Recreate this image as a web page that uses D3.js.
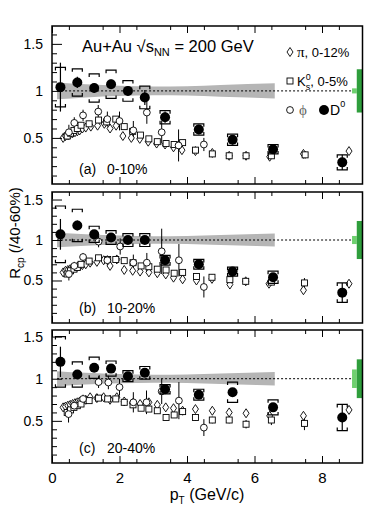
<!DOCTYPE html>
<html>
<head>
<meta charset="utf-8">
<script src="https://cdn.jsdelivr.net/npm/d3@7"></script>
<style>
  body { margin: 0; background: #fff; }
  svg { display: block; }
</style>
</head>
<body>
<div id="chart"></div>
<script>
// D0 pT bins (shared by all panels)
const d0Pt = [0.25, 0.75, 1.25, 1.75, 2.25, 2.75, 3.35, 4.35, 5.35, 6.55, 8.6];

// panel (a) 0-10%
const d0A = [1.04, 1.09, 1.03, 1.07, 1.0, 0.93, 0.72, 0.59, 0.48, 0.38, 0.24];
const d0AStat = [0.26, 0.06, 0.05, 0.05, 0.05, 0.08, 0.06, 0.05, 0.05, 0.05, 0.08];
const d0ASys = [0.21, 0.145, 0.15, 0.15, 0.11, 0.12, 0.07, 0.06, 0.06, 0.05, 0.08];
const piA = [[0.33,0.5],[0.4,0.52],[0.47,0.53],[0.54,0.54],[0.61,0.55],[0.68,0.56],[0.75,0.57],[0.82,0.58],[0.9,0.6],[1.0,0.61],[1.15,0.62],[1.35,0.63],[1.55,0.65],[1.72,0.6],[1.9,0.63],[2.1,0.52],[2.35,0.5],[2.6,0.49],[2.85,0.46],[3.1,0.44],[3.35,0.43],[3.6,0.4],[3.85,0.37],[4.25,0.36],[4.75,0.34],[5.25,0.31],[5.75,0.31],[6.45,0.3],[7.45,0.33],[8.8,0.36]];
const k0A = [[0.45,0.52,0.03],[0.55,0.55,0.03],[0.65,0.58,0.03],[0.75,0.6,0.03],[0.86,0.635,0.03],[1.1,0.65,0.03],[1.38,0.69,0.03],[1.62,0.67,0.03],[1.89,0.7,0.03],[2.14,0.62,0.03],[2.39,0.57,0.03],[2.62,0.53,0.02],[2.87,0.49,0.02],[3.12,0.46,0.02],[3.38,0.44,0.02],[3.62,0.43,0.02],[3.87,0.45,0.02],[4.25,0.37,0.02],[4.75,0.33,0.02],[5.25,0.31,0.02],[5.75,0.31,0.02],[6.5,0.31,0.03],[7.5,0.32,0.04]];
const phiA = [[0.5,0.56,0.08],[0.66,0.66,0.06],[0.92,0.74,0.06],[1.37,0.78,0.07],[1.64,0.7,0.08],[2.0,0.68,0.1],[2.41,0.58,0.1],[2.81,0.77,0.12],[3.25,0.56,0.12],[3.75,0.42,0.17],[4.5,0.43,0.07]];

// panel (b) 10-20%
const d0B = [1.07, 1.18, 1.07, 1.03, 1.0, 1.0, 0.75, 0.7, 0.61, 0.54, 0.35];
const d0BStat = [0.19, 0.06, 0.05, 0.05, 0.04, 0.04, 0.05, 0.04, 0.04, 0.05, 0.12];
const d0BSys = [0.35, 0.2, 0.1, 0.085, 0.08, 0.08, 0.06, 0.06, 0.055, 0.075, 0.12];
const piB = [[0.33,0.6],[0.4,0.62],[0.47,0.63],[0.54,0.64],[0.61,0.65],[0.68,0.66],[0.75,0.67],[0.82,0.68],[0.9,0.69],[1.0,0.7],[1.13,0.72],[1.33,0.73],[1.53,0.75],[1.72,0.68],[1.92,0.76],[2.14,0.63],[2.39,0.62],[2.61,0.61],[2.87,0.6],[3.12,0.59],[3.37,0.575],[3.6,0.535],[3.87,0.515],[4.28,0.5],[4.74,0.52],[5.27,0.45],[5.74,0.49],[6.43,0.46],[7.45,0.38],[8.8,0.46]];
const k0B = [[0.45,0.58,0.03],[0.55,0.62,0.03],[0.65,0.64,0.03],[0.75,0.66,0.03],[0.86,0.7,0.03],[1.1,0.74,0.03],[1.38,0.78,0.03],[1.65,0.76,0.03],[1.89,0.76,0.03],[2.14,0.745,0.03],[2.4,0.72,0.03],[2.64,0.68,0.03],[2.87,0.67,0.03],[3.12,0.64,0.03],[3.38,0.63,0.03],[3.62,0.59,0.03],[3.87,0.6,0.03],[4.28,0.55,0.03],[4.74,0.54,0.03],[5.27,0.51,0.03],[5.74,0.49,0.03],[6.5,0.48,0.04],[7.48,0.47,0.06]];
const phiB = [[0.5,0.58,0.08],[0.66,0.68,0.05],[0.92,0.79,0.05],[1.38,0.98,0.07],[1.64,0.75,0.06],[2.02,0.92,0.1],[2.41,0.72,0.1],[2.81,0.72,0.12],[3.25,0.86,0.28],[3.76,0.75,0.2],[4.5,0.42,0.13]];

// panel (c) 20-40%
const d0C = [1.2, 1.05, 1.13, 1.12, 1.03, 1.07, 0.875, 0.81, 0.84, 0.66, 0.54];
const d0CStat = [0.18, 0.05, 0.05, 0.05, 0.04, 0.04, 0.05, 0.04, 0.04, 0.05, 0.155];
const d0CSys = [0.3, 0.15, 0.125, 0.09, 0.065, 0.075, 0.055, 0.065, 0.12, 0.09, 0.155];
const piC = [[0.33,0.66],[0.4,0.67],[0.47,0.68],[0.54,0.69],[0.61,0.7],[0.68,0.71],[0.75,0.72],[0.82,0.73],[0.9,0.73],[1.0,0.75],[1.13,0.78],[1.33,0.77],[1.53,0.78],[1.72,0.75],[1.92,0.78],[2.14,0.73],[2.39,0.71],[2.61,0.7],[2.87,0.72],[3.12,0.69],[3.37,0.66],[3.6,0.65],[3.87,0.62],[4.25,0.64],[4.75,0.62],[5.25,0.6],[5.75,0.59],[6.45,0.56],[7.45,0.56],[8.8,0.63]];
const k0C = [[0.45,0.6,0.03],[0.55,0.63,0.03],[0.65,0.66,0.03],[0.75,0.68,0.03],[0.86,0.7,0.03],[1.1,0.74,0.03],[1.38,0.77,0.03],[1.65,0.76,0.03],[1.89,0.76,0.03],[2.14,0.72,0.03],[2.4,0.69,0.03],[2.64,0.65,0.03],[2.87,0.64,0.03],[3.12,0.62,0.03],[3.38,0.54,0.03],[3.62,0.57,0.03],[3.87,0.61,0.03],[4.25,0.54,0.04],[4.75,0.51,0.04],[5.25,0.51,0.04],[5.75,0.46,0.05],[6.5,0.51,0.06],[7.48,0.47,0.08]];
const phiC = [[0.49,0.58,0.1],[0.66,0.68,0.05],[0.92,0.76,0.05],[1.38,0.96,0.07],[1.67,0.955,0.08],[2.0,0.9,0.1],[2.41,0.72,0.12],[2.8,0.72,0.14],[3.25,0.85,0.15],[3.76,0.74,0.22],[4.5,0.42,0.1]];

// Ncoll uncertainty band (grey) and normalisation boxes
const bandPt = [0.15, 1, 2, 3, 4, 5, 6.6];
const bandHalf = [0.09, 0.07, 0.055, 0.047, 0.05, 0.062, 0.08];
const normLight = [0.027, 0.05, 0.11];
const normDark = [0.23, 0.235, 0.23];

const xTicks = [0, 2, 4, 6, 8];
const yTicks = [0.5, 1, 1.5];
const panelLabels = ["(a)", "(b)", "(c)"];
const centLabels = ["0-10%", "10-20%", "20-40%"];

const W = 374, H = 506;
const font = "'Liberation Sans', Arial, Helvetica, sans-serif";
const serif = "'Liberation Serif', 'DejaVu Serif', serif";

const svg = d3.select("#chart").append("svg")
  .attr("width", W).attr("height", H)
  .style("font-family", font);

const x = d3.scaleLinear().domain([0, 9.2]).range([52, 362.5]);

const panels = [
  { top: 26, bottom: 184, dom: [0.01, 1.69], d0: d0A, stat: d0AStat, sys: d0ASys, pi: piA, k0: k0A, phi: phiA },
  { top: 192, bottom: 323, dom: [-0.025, 1.593], d0: d0B, stat: d0BStat, sys: d0BSys, pi: piB, k0: k0B, phi: phiB },
  { top: 330, bottom: 463, dom: [0, 1.578], d0: d0C, stat: d0CStat, sys: d0CSys, pi: piC, k0: k0C, phi: phiC }
];

const diamond = "M0,-4.5L3,0L0,4.5L-3,0Z";

panels.forEach((p, i) => {
  const y = d3.scaleLinear().domain(p.dom).range([p.bottom, p.top]);
  const g = svg.append("g");

  // grey band
  const band = d3.area()
    .x((d) => x(d[0]))
    .y0((d) => y(1 - d[1]))
    .y1((d) => y(1 + d[1]))
    .curve(d3.curveMonotoneX);
  g.append("path").datum(d3.zip(bandPt, bandHalf))
    .attr("d", band).attr("fill", "#b5b5b5");

  // unity line
  g.append("line")
    .attr("x1", x(0.15)).attr("x2", x(8.9))
    .attr("y1", y(1)).attr("y2", y(1))
    .attr("stroke", "#000").attr("stroke-width", 1)
    .attr("stroke-dasharray", "2,2");

  // normalisation boxes
  g.append("rect")
    .attr("x", x(8.89)).attr("width", x(9.03) - x(8.89))
    .attr("y", y(1 + normLight[i])).attr("height", y(1 - normLight[i]) - y(1 + normLight[i]))
    .attr("fill", "#6fd06f");
  g.append("rect")
    .attr("x", x(9.03)).attr("width", x(9.2) - x(9.03))
    .attr("y", y(1 + normDark[i])).attr("height", y(1 - normDark[i]) - y(1 + normDark[i]))
    .attr("fill", "#2f9e3c");

  // error bars for light hadrons
  g.append("g").selectAll("line")
    .data(p.k0.concat(p.phi))
    .join("line")
    .attr("x1", (d) => x(d[0])).attr("x2", (d) => x(d[0]))
    .attr("y1", (d) => y(d[1] - d[2])).attr("y2", (d) => y(d[1] + d[2]))
    .attr("stroke", "#000").attr("stroke-width", 1);

  // pi diamonds
  g.append("g").selectAll("path")
    .data(p.pi)
    .join("path")
    .attr("d", diamond)
    .attr("transform", (d) => `translate(${x(d[0])},${y(d[1])})`)
    .attr("fill", "#fff").attr("stroke", "#000").attr("stroke-width", 0.9);

  // K0s squares
  g.append("g").selectAll("rect")
    .data(p.k0)
    .join("rect")
    .attr("x", (d) => x(d[0]) - 3).attr("y", (d) => y(d[1]) - 3)
    .attr("width", 6).attr("height", 6)
    .attr("fill", "#fff").attr("stroke", "#000").attr("stroke-width", 0.9);

  // phi circles
  g.append("g").selectAll("circle")
    .data(p.phi)
    .join("circle")
    .attr("cx", (d) => x(d[0])).attr("cy", (d) => y(d[1]))
    .attr("r", 3.4)
    .attr("fill", "#fff").attr("stroke", "#000").attr("stroke-width", 0.9);

  // D0 stat errors
  const d0 = d0Pt.map((pt, j) => ({ pt, v: p.d0[j], stat: p.stat[j], sys: p.sys[j] }));
  g.append("g").selectAll("line")
    .data(d0)
    .join("line")
    .attr("x1", (d) => x(d.pt)).attr("x2", (d) => x(d.pt))
    .attr("y1", (d) => y(d.v - d.stat)).attr("y2", (d) => y(d.v + d.stat))
    .attr("stroke", "#000").attr("stroke-width", 1.2);

  // D0 systematic brackets
  const bw = 5, bt = 3;
  g.append("g").selectAll("path")
    .data(d0)
    .join("path")
    .attr("d", (d) => {
      const cx = x(d.pt), yt = y(d.v + d.sys), yb = y(d.v - d.sys);
      return `M${cx - bw},${yt + bt}V${yt}H${cx + bw}V${yt + bt}` +
             `M${cx - bw},${yb - bt}V${yb}H${cx + bw}V${yb - bt}`;
    })
    .attr("fill", "none").attr("stroke", "#000").attr("stroke-width", 1.2);

  // D0 points
  g.append("g").selectAll("circle")
    .data(d0)
    .join("circle")
    .attr("cx", (d) => x(d.pt)).attr("cy", (d) => y(d.v))
    .attr("r", 5).attr("fill", "#000");

  // axes (ticks inward)
  const xMinor = d3.range(0.5, 9.2, 1);
  const yMinor = d3.range(0.1, p.dom[1], 0.1).filter((v) => Math.abs(v * 2 - Math.round(v * 2)) > 1e-6);

  const bottomAxis = d3.axisBottom(x).tickValues(xTicks).tickSize(-7)
    .tickPadding(9).tickFormat(i === 2 ? d3.format("d") : () => "");
  const gb = g.append("g").attr("transform", `translate(0,${p.bottom})`).call(bottomAxis);
  g.append("g").attr("transform", `translate(0,${p.bottom})`)
    .call(d3.axisBottom(x).tickValues(xMinor).tickSize(-4).tickFormat(() => ""));
  g.append("g").attr("transform", `translate(0,${p.top})`)
    .call(d3.axisTop(x).tickValues(xTicks).tickSize(-7).tickFormat(() => ""));
  g.append("g").attr("transform", `translate(0,${p.top})`)
    .call(d3.axisTop(x).tickValues(xMinor).tickSize(-4).tickFormat(() => ""));

  const gl = g.append("g").attr("transform", `translate(${x(0)},0)`)
    .call(d3.axisLeft(y).tickValues(yTicks).tickSize(-10).tickPadding(9)
      .tickFormat((v) => (v === 1 ? "1" : d3.format(".1f")(v))));
  g.append("g").attr("transform", `translate(${x(0)},0)`)
    .call(d3.axisLeft(y).tickValues(yMinor).tickSize(-5).tickFormat(() => ""));

  g.selectAll(".domain").remove();
  g.selectAll(".tick line").attr("stroke", "#000").attr("stroke-width", 1);
  gl.selectAll("text").attr("font-size", 14).attr("font-family", font).attr("fill", "#000");
  gb.selectAll("text").attr("font-size", 15).attr("font-family", font).attr("fill", "#000");

  // frame
  g.append("rect")
    .attr("x", x(0)).attr("y", p.top)
    .attr("width", x(9.2) - x(0)).attr("height", p.bottom - p.top)
    .attr("fill", "none").attr("stroke", "#000").attr("stroke-width", 1.5);

  // panel label
  const lab = g.append("text").attr("y", p.bottom - 10).attr("font-size", 14);
  lab.append("tspan").attr("x", 79).text(panelLabels[i]);
  lab.append("tspan").attr("x", 107).text(centLabels[i]);
});

// header text
const head = svg.append("text").attr("x", 82).attr("y", 52).attr("font-size", 16.5);
head.append("tspan").text("Au+Au ");
head.append("tspan").text("\u221A");
head.append("tspan").text("s");
head.append("tspan").attr("font-size", 11).attr("dy", 4).text("NN");
head.append("tspan").attr("dy", -4).text(" = 200 GeV");

// legend
const lg = svg.append("g").attr("font-size", 13);
lg.append("path").attr("d", diamond).attr("transform", "translate(290,52)")
  .attr("fill", "#fff").attr("stroke", "#000").attr("stroke-width", 0.9);
const t1 = lg.append("text").attr("x", 297).attr("y", 57);
t1.append("tspan").attr("font-family", serif).attr("font-size", 15).text("\u03C0");
t1.append("tspan").text(", 0-12%");

lg.append("rect").attr("x", 287).attr("y", 78).attr("width", 6).attr("height", 6)
  .attr("fill", "#fff").attr("stroke", "#000").attr("stroke-width", 0.9);
const t2 = lg.append("text").attr("x", 297).attr("y", 86);
t2.append("tspan").text("K");
t2.append("tspan").attr("font-size", 9).attr("dy", -6).text("0");
t2.append("tspan").attr("font-size", 9).attr("dx", -5).attr("dy", 10).text("s");
t2.append("tspan").attr("dy", -4).text(", 0-5%");

lg.append("circle").attr("cx", 290).attr("cy", 110).attr("r", 3.4)
  .attr("fill", "#fff").attr("stroke", "#000").attr("stroke-width", 0.9);
lg.append("text").attr("x", 299).attr("y", 115).attr("font-family", serif)
  .attr("font-size", 15).attr("fill", "#666").text("\u03D5");
lg.append("circle").attr("cx", 324).attr("cy", 110).attr("r", 5).attr("fill", "#000");
const t3 = lg.append("text").attr("x", 330).attr("y", 115).attr("font-size", 14);
t3.append("tspan").text("D");
t3.append("tspan").attr("font-size", 9).attr("dy", -8).text("0");

// axis titles
const xt = svg.append("text").attr("x", 207).attr("y", 500)
  .attr("text-anchor", "middle").attr("font-size", 16);
xt.append("tspan").text("p");
xt.append("tspan").attr("font-size", 10).attr("dy", 4).text("T");
xt.append("tspan").attr("dy", -4).text(" (GeV/c)");

const yt = svg.append("text").attr("transform", "translate(20,233) rotate(-90)")
  .attr("text-anchor", "middle").attr("font-size", 15);
yt.append("tspan").text("R");
yt.append("tspan").attr("font-size", 10).attr("dy", 4).text("cp");
yt.append("tspan").attr("dy", -4).text(" (/40-60%)");
</script>
</body>
</html>
